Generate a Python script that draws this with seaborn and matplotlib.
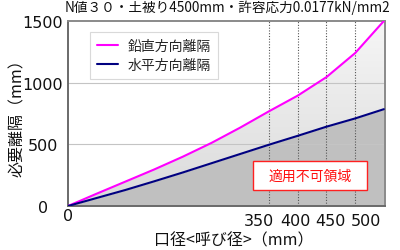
import numpy as np
import pandas as pd
import matplotlib
matplotlib.use("Agg")
import matplotlib.pyplot as plt
import matplotlib.transforms as mtransforms
from matplotlib.patches import Rectangle
import seaborn as sns

# ---- data ----
diameter = [0, 50, 100, 150, 200, 250, 300, 350, 400, 450, 500, 550]
vertical = [0, 100, 198, 296, 400, 512, 636, 768, 895, 1045, 1240, 1500]
horizontal = [0, 65, 130, 200, 272, 347, 422, 497, 569, 643, 710, 785]
series_names = ["鉛直方向離隔", "水平方向離隔"]
series_colors = ["#ff00ff", "#000080"]
x_ticks = [0, 350, 400, 450, 500]
y_ticks = [0, 500, 1000, 1500]
title = "N値３０・土被り4500mm・許容応力0.0177kN/mm2"
xlabel = "口径<呼び径>（mm）"
ylabel = "必要離隔（mm）"
note = "適用不可領域"

sns.set_theme(style="white")
plt.rcParams["font.family"] = ["Noto Sans CJK JP", "DejaVu Sans"]

fig = plt.figure(figsize=(4.0, 2.51), dpi=100)
ax = fig.add_axes([68 / 400, 1 - 207 / 251, 317 / 400, 185 / 251])

df = pd.DataFrame({
    "口径": diameter * 2,
    "離隔": vertical + horizontal,
    "種別": [series_names[0]] * len(diameter) + [series_names[1]] * len(diameter),
})

x = np.array(diameter, dtype=float)
v = np.array(vertical, dtype=float)
h = np.array(horizontal, dtype=float)

# gradient fill between the two curves
grad = np.linspace(0, 1, 256).reshape(-1, 1)
cmap = matplotlib.colors.LinearSegmentedColormap.from_list("g", ["#dadada", "#f6f6f6"])
poly = ax.fill_between(x, h, v, color="none", lw=0, zorder=1)
im = ax.imshow(grad, extent=[0, 552, 0, 1500], origin="lower", aspect="auto",
               cmap=cmap, zorder=1)
path = poly.get_paths()[0]
im.set_clip_path(path, transform=ax.transData)
ax.fill_between(x, 0, h, color="#c0c0c0", lw=0, zorder=1.5)

# grid lines
for yv in [500, 1000]:
    ax.axhline(yv, color="#c4c4c4", lw=0.8, zorder=2)
for xv in x_ticks[1:]:
    ax.axvline(xv, color="#555555", lw=0.8, ls=(0, (1, 1.5)), zorder=2)

sns.lineplot(data=df, x="口径", y="離隔", hue="種別", palette=series_colors,
             linewidth=1.5, ax=ax, zorder=3, legend=True)

ax.set_xlim(0, 552)
ax.set_ylim(0, 1500)
ax.set_xticks(x_ticks)
ax.set_xticklabels([str(t) for t in x_ticks])
ax.set_yticks(y_ticks)
ax.set_yticklabels([str(t) for t in y_ticks])
ax.tick_params(axis="both", length=0, labelsize=11.5, colors="#111111")
for lab in ax.get_yticklabels():
    lab.set_family("DejaVu Sans")
    lab.set_ha("center")
ax.tick_params(axis="y", pad=18)
ax.tick_params(axis="x", pad=5)
offsets = [0, -10, -2, 4, 11]
voff = [5, 0, 0, 0, 0]
for lab, dx, dy in zip(ax.get_xticklabels(), offsets, voff):
    lab.set_family("DejaVu Sans")
    lab.set_transform(lab.get_transform() +
                      mtransforms.ScaledTranslation(dx / 100, dy / 100, fig.dpi_scale_trans))

for s in ax.spines.values():
    s.set_color("#8a8a8a")
    s.set_linewidth(1.4)
ax.spines["left"].set_color("#6a6a6a")
ax.spines["bottom"].set_color("#6a6a6a")

ax.set_xlabel(xlabel, fontsize=11.5, color="#111111")
ax.set_ylabel(ylabel, fontsize=11.5, color="#111111", va="center")
ax.xaxis.set_label_coords((234 - 68) / 317, (207 - 232) / 185)
ax.yaxis.set_label_coords((18 - 68) / 317, 0.5)

leg = ax.legend(loc="upper left", bbox_to_anchor=((90 - 68) / 317, (207 - 33) / 185),
                borderaxespad=0, fontsize=10, frameon=True, fancybox=False,
                handlelength=1.5, handletextpad=0.7, labelspacing=0.35,
                borderpad=0.5, title=None)
leg.get_frame().set_edgecolor("#d0d0d0")
leg.get_frame().set_linewidth(0.8)
leg.set_zorder(5)

# red note box
ax.add_patch(Rectangle(((253 - 68) / 317, (207 - 191) / 185), (367 - 253) / 317, 29 / 185,
                       transform=ax.transAxes, facecolor="white", edgecolor="#ff2020",
                       lw=1.0, zorder=4))
ax.text((310 - 68) / 317, (207 - 176.5) / 185, note, transform=ax.transAxes,
        ha="center", va="center", color="#ff1010", fontsize=10, zorder=5)

fig.text(227 / 400, 1 - 7.5 / 251, title, ha="center", va="center",
         fontsize=9.8, color="#111111")

fig.savefig("out.png", dpi=100, facecolor="white")
